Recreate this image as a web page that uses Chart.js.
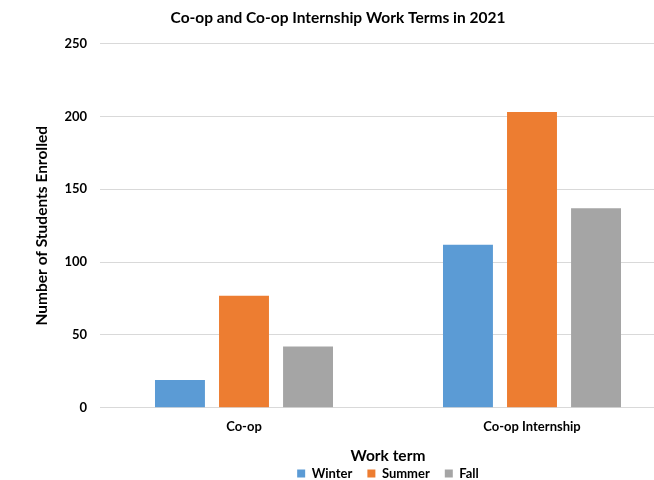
<!DOCTYPE html>
<html>
<head>
<meta charset="utf-8">
<script src="https://cdn.jsdelivr.net/npm/chart.js@4.4.1/dist/chart.umd.min.js"></script>
<style>
html,body{margin:0;padding:0;background:#fff;overflow:hidden;width:654px;height:480px;}
#wrap{position:absolute;left:0;top:0;width:702px;height:503px;}
</style>
</head>
<body>
<div id="wrap"><canvas id="c" width="702" height="503"></canvas></div>
<script>
const categories = ["Co-op", "Co-op Internship"];
const seriesNames = ["Winter", "Summer", "Fall"];
const winter = [19, 112];
const summer = [77, 203];
const fall = [42, 137];
const yTicks = [0, 50, 100, 150, 200, 250];
const colors = ["#5B9BD5", "#ED7D31", "#A5A5A5"];
const FONT = "Lato, 'Liberation Sans', sans-serif";

const legendShift = {
  id: 'legendShift',
  afterLayout(chart) {
    if (chart.legend) { chart.legend.top -= 13; chart.legend.bottom -= 13; }
  }
};

const chart = new Chart(document.getElementById('c'), {
  type: 'bar',
  data: {
    labels: categories,
    datasets: [winter, summer, fall].map((d, i) => ({
      label: seriesNames[i],
      data: d,
      backgroundColor: colors[i],
      borderWidth: 0,
      categoryPercentage: 0.667,
      barPercentage: 0.78
    }))
  },
  plugins: [legendShift],
  options: {
    responsive: false,
    animation: false,
    devicePixelRatio: 1,
    layout: { padding: { left: 0, right: 26, top: 0, bottom: 0 } },
    plugins: {
      title: {
        display: true,
        text: "Co-op and Co-op Internship Work Terms in 2021",
        color: "#000",
        font: { family: FONT, size: 15.5, weight: 'bold' },
        padding: { top: 9, bottom: 16 }
      },
      legend: {
        position: 'bottom',
        fullSize: false,
        labels: {
          color: "#000",
          font: { family: FONT, size: 13, weight: 'bold' },
          boxWidth: 8,
          boxHeight: 8,
          padding: 15
        }
      },
      tooltip: { enabled: false }
    },
    scales: {
      x: {
        grid: { display: false, drawTicks: false },
        border: { display: true, color: "#d9d9d9", width: 1 },
        ticks: {
          color: "#000",
          font: { family: FONT, size: 13, weight: 'bold' },
          padding: 11
        },
        title: {
          display: true,
          text: "Work term",
          color: "#000",
          font: { family: FONT, size: 15.5, weight: 'bold' },
          padding: { top: 1, bottom: 0 }
        }
      },
      y: {
        min: 0,
        max: 250,
        afterFit: (s) => { s.width = 100; },
        afterBuildTicks: (s) => { s.ticks = yTicks.map(v => ({ value: v })); },
        grid: { color: "#d9d9d9", drawTicks: false, lineWidth: 1 },
        border: { display: false },
        ticks: {
          color: "#000",
          font: { family: FONT, size: 13, weight: 'bold' },
          padding: 13
        },
        title: {
          display: true,
          text: "Number of Students Enrolled",
          color: "#000",
          font: { family: FONT, size: 15.5, weight: 'bold' },
          padding: { top: 33, bottom: 0 }
        }
      }
    }
  }
});
</script>
</body>
</html>
